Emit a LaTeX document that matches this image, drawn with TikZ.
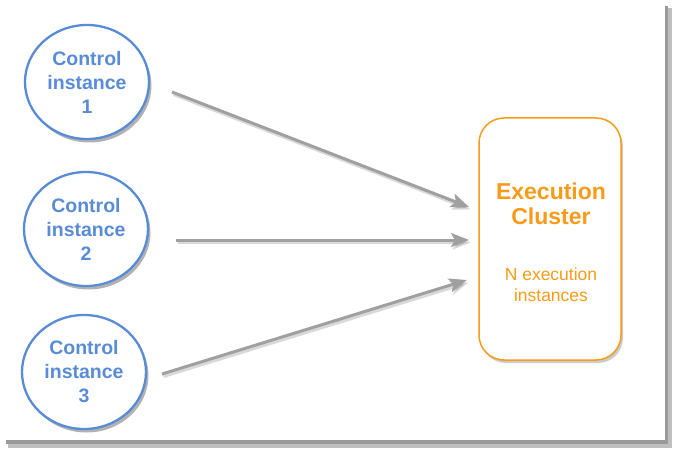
\documentclass[tikz,border=0pt]{standalone}
\usepackage{fontspec}
\setmainfont{Liberation Sans}
\usetikzlibrary{arrows.meta,shapes.geometric,shadows,positioning}
\definecolor{ctrlblue}{RGB}{88,140,214}
\definecolor{execorange}{RGB}{247,155,25}
\definecolor{flowgray}{RGB}{160,160,160}
\tikzset{
	control/.style={ellipse, draw=ctrlblue, line width=2.3pt, fill=white,
		minimum width=124pt, minimum height=114pt, inner sep=0pt,
		text=ctrlblue, align=center, font=\bfseries\fontsize{19.5}{24}\selectfont,
		drop shadow={shadow xshift=2.5pt, shadow yshift=-3.5pt, opacity=0.3, fill=black}},
	cluster/.style={rectangle, rounded corners=25pt, draw=execorange, line width=1.5pt,
		fill=white, minimum width=142pt, minimum height=242pt,
		drop shadow={shadow xshift=2pt, shadow yshift=-3pt, opacity=0.2, fill=black}},
	flow/.style={draw=flowgray, line width=3pt, -{Stealth[length=18pt,width=14pt,inset=4pt]}},
	flowshadow/.style={draw=black, opacity=0.15, line width=3pt, -{Stealth[length=18pt,width=14pt,inset=4pt]}}
}
\begin{document}
\begin{tikzpicture}[x=1pt,y=-1pt]
	\useasboundingbox (0,0) rectangle (681,460);
	% page and its shadow
	\fill[black!25] (8,8) rectangle (672,448);
	\fill[black!40] (6,6) rectangle (668,444);
	\fill[white] (0,0) rectangle (665,440);
	
	\node[control] (ctrl1) at (87,82) {Control\\instance\\1};
	\node[control] (ctrl2) at (86,229) {Control\\instance\\2};
	\node[control] (ctrl3) at (84,372) {Control\\instance\\3};
	
	\node[cluster] (cluster) at (550,239) {};
	\node[text=execorange, font=\bfseries\fontsize{23}{25}\selectfont, align=center] (title) at (551,204) {Execution\\Cluster};
	\node[text=execorange, font=\fontsize{17.5}{21}\selectfont, align=center] (count) at (551,285) {N execution\\instances};
	
	\coordinate (s1) at (172,92);
	\coordinate (s2) at (176,240);
	\coordinate (s3) at (162,374);
	\coordinate (t1) at (469,207);
	\coordinate (t2) at (469,240);
	\coordinate (t3) at (467,280);
	
	\foreach \i in {1,2,3}{
		\draw[flowshadow] ([shift={(1.5,2.5)}]s\i) -- ([shift={(1.5,2.5)}]t\i);
		\draw[flow] (s\i) -- (t\i);
	}
	
\end{tikzpicture}
\end{document}
